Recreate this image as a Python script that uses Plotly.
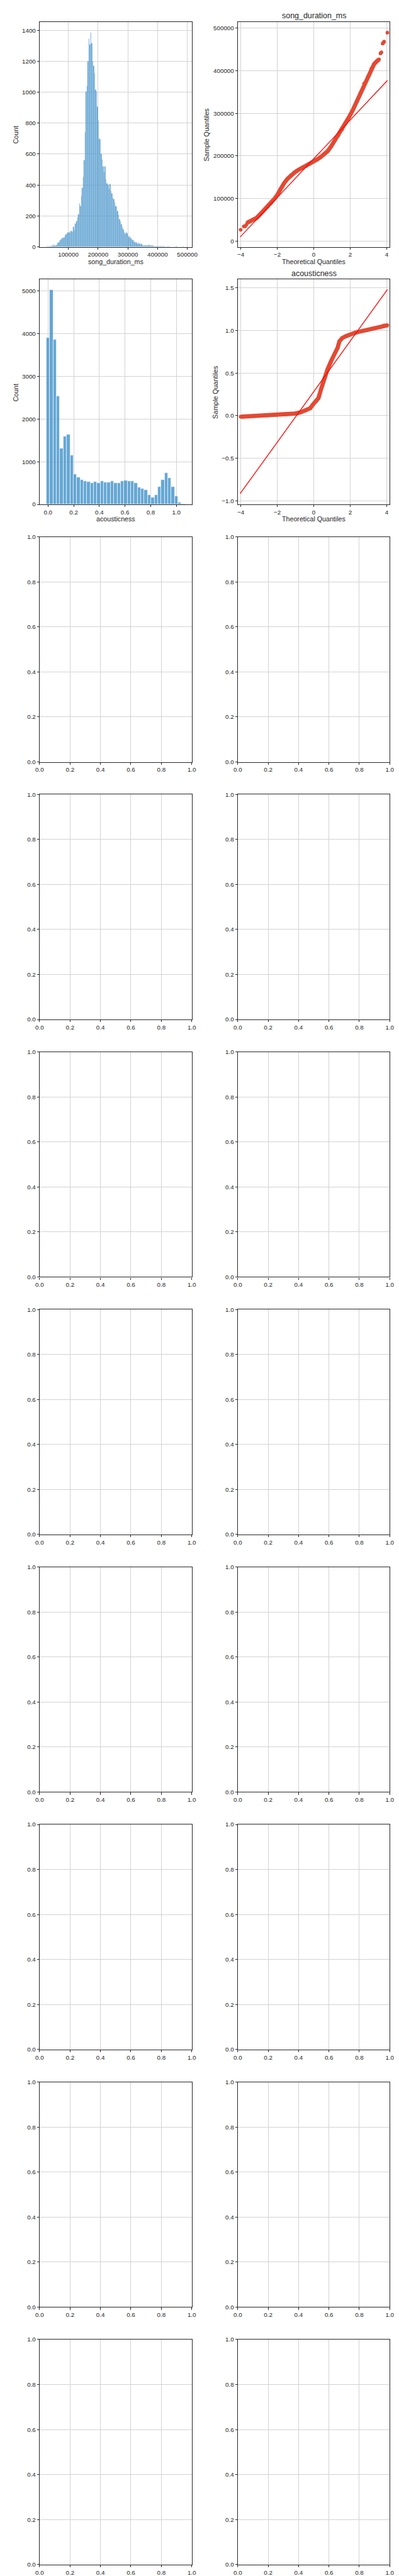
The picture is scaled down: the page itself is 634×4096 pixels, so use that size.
import plotly.graph_objects as go

# ---------------- data ----------------
# song_duration_ms histogram
dur_bin_start = 26750
dur_bin_width = 3207
dur_counts = [
    2, 0, 3, 3, 4, 6, 8, 14, 8, 9,
    12, 24, 28, 32, 44, 47, 58, 58, 60, 72,
    82, 85, 93, 93, 92, 107, 102, 98, 128, 110,
    148, 165, 190, 210, 280, 265, 330, 380, 450, 560,
    740, 1005, 1040, 1200, 1345, 1310, 1385, 1315, 1200, 1170,
    1120, 1015, 1005, 905, 815, 700, 695, 600, 565, 520,
    485, 520, 435, 410, 400, 375, 405, 360, 345, 315,
    310, 290, 262, 258, 232, 205, 178, 165, 145, 128,
    115, 98, 85, 96, 88, 76, 66, 68, 56, 50,
    45, 40, 32, 26, 30, 20, 26, 18, 14, 18,
    10, 8, 12, 8, 12, 9, 10, 12, 7, 9,
    10, 8, 5, 4, 3, 4, 3, 3, 4, 3,
    3, 3, 2, 3, 1, 0, 2, 1, 2, 0,
    0, 1, 0, 0, 0, 3, 2, 0, 0, 0,
    0, 0, 0, 2, 1,
]

# acousticness histogram
ac_bin_start = -0.0115
ac_bin_width = 0.02628
ac_counts = [
    3906, 5021, 3867, 2541, 1308, 1597, 1636, 1142, 704, 630,
    577, 538, 525, 499, 525, 499, 551, 512, 512, 538,
    499, 499, 551, 564, 551, 551, 499, 394, 363, 337,
    219, 166, 219, 407, 573, 730, 612, 416, 192, 39, 13,
]

# song_duration_ms Q-Q plot (theoretical quantile, sample quantile)
dur_qq_band_x = [-3.64, -3.49, -3.34, -3.14, -2.94, -2.74, -2.54, -2.34, -2.14, -1.99,
                 -1.84, -1.64, -1.44, -1.24, -1.04, -0.84, -0.64, -0.44, -0.24, -0.04,
                 0.16, 0.36, 0.56, 0.76, 0.96, 1.16, 1.36, 1.56, 1.76, 1.96,
                 2.16, 2.36, 2.56, 2.76, 2.96, 3.16, 3.31, 3.46, 3.58]
dur_qq_band_y = [43000, 46000, 49600, 54000, 62700, 71500, 80300, 89000, 100000, 108800,
                 122000, 135000, 146000, 154800, 161400, 167100, 171500, 175900, 180300, 185500,
                 190800, 196500, 203000, 211000, 222800, 236000, 249000, 262300, 277600, 293000,
                 309200, 328000, 347800, 369700, 385000, 404800, 415800, 422400, 426800]
dur_qq_dots_x = [-4.01, -3.84, -3.77, -3.70, 3.66, 3.71, 3.78, 3.83, 3.86, 4.04]
dur_qq_dots_y = [26300, 34200, 34200, 38000, 440800, 443400, 464000, 466500, 468400, 489500]
dur_line_x = [-4.04, 4.04]
dur_line_y = [9200, 377200]

# acousticness Q-Q plot
ac_qq_band_x = [-4.01, -3.79, -3.54, -3.04, -2.54, -2.04, -1.54, -1.04, -0.74, -0.44,
                -0.19, -0.04, 0.16, 0.26, 0.41, 0.56, 0.76, 0.96, 1.16, 1.31,
                1.41, 1.56, 1.76, 1.96, 2.26, 2.56, 2.96, 3.36, 3.66, 3.86, 4.04]
ac_qq_band_y = [-0.013, -0.011, -0.007, -0.002, 0.002, 0.007, 0.013, 0.024, 0.037, 0.059,
                0.087, 0.131, 0.175, 0.207, 0.317, 0.426, 0.546, 0.644, 0.731, 0.797,
                0.873, 0.910, 0.932, 0.950, 0.972, 0.989, 1.007, 1.026, 1.041, 1.059, 1.061]
ac_line_x = [-4.04, 4.04]
ac_line_y = [-0.917, 1.480]

# tick values / labels
dur_ticks = [100000, 200000, 300000, 400000, 500000]
dur_tick_labels = ["100000", "200000", "300000", "400000", "500000"]
count1_ticks = [0, 200, 400, 600, 800, 1000, 1200, 1400]
count1_labels = ["0", "200", "400", "600", "800", "1000", "1200", "1400"]
qq_x_ticks = [-4, -2, 0, 2, 4]
qq_x_labels = ["\u22124", "\u22122", "0", "2", "4"]
dur_qq_y_ticks = [0, 100000, 200000, 300000, 400000, 500000]
dur_qq_y_labels = ["0", "100000", "200000", "300000", "400000", "500000"]
ac_ticks = [0.0, 0.2, 0.4, 0.6, 0.8, 1.0]
ac_tick_labels = ["0.0", "0.2", "0.4", "0.6", "0.8", "1.0"]
count2_ticks = [0, 1000, 2000, 3000, 4000, 5000]
count2_labels = ["0", "1000", "2000", "3000", "4000", "5000"]
ac_qq_y_ticks = [-1.0, -0.5, 0.0, 0.5, 1.0, 1.5]
ac_qq_y_labels = ["\u22121.0", "\u22120.5", "0.0", "0.5", "1.0", "1.5"]
unit_ticks = [0.0, 0.2, 0.4, 0.6, 0.8, 1.0]
unit_labels = ["0.0", "0.2", "0.4", "0.6", "0.8", "1.0"]

# ---------------- geometry / style ----------------
S = 0.89
W, H = 634, 4096
RW, RH = 712.0, 4600.0
ROW_TOP0, ROW_STEP, PANEL_H = 23.3, 461.1, 403.0
COLS = [(55.3, 334.3), (418.7, 697.3)]
NROWS = 10

FONT = "Liberation Sans, Arial, sans-serif"
TXT = "#262626"
GRID = "#d3d3d3"
TICK_FS = 11 * S
LABEL_FS = 12 * S
TITLE_FS = 14 * S


def px(x):
    return x / RW


def py(y):
    return 1 - y / RH


def axis(domain, rng, tickvals, ticktext, anchor):
    return dict(
        domain=domain, range=rng, anchor=anchor,
        tickmode="array", tickvals=tickvals, ticktext=ticktext,
        showgrid=True, gridcolor=GRID, gridwidth=0.9,
        showline=True, linecolor=TXT, linewidth=1.1, mirror=True,
        ticks="outside", ticklen=3.5 * S, tickwidth=0.9, tickcolor=TXT,
        tickfont=dict(family=FONT, size=TICK_FS, color=TXT),
        zeroline=False, fixedrange=True,
    )


fig = go.Figure()
layout = {}
annotations = []


def ax_ids(r, c):
    n = 2 * r + c + 1
    s = "" if n == 1 else str(n)
    return "x" + s, "y" + s, "xaxis" + s, "yaxis" + s


def panel_box(r, c):
    top = ROW_TOP0 + r * ROW_STEP
    bot = top + PANEL_H
    x0, x1 = COLS[c]
    return x0, x1, top, bot


def add_label(text, x, y, size=LABEL_FS, angle=0):
    annotations.append(dict(
        text=text, x=px(x), y=py(y), xref="paper", yref="paper",
        showarrow=False, textangle=angle, xanchor="center", yanchor="middle",
        font=dict(family=FONT, size=size, color=TXT)))


for r in range(NROWS):
    for c in range(2):
        xid, yid, xk, yk = ax_ids(r, c)
        x0, x1, top, bot = panel_box(r, c)
        xd = [px(x0), px(x1)]
        yd = [py(bot), py(top)]
        if r == 0 and c == 0:
            xr, xt, xl = [3500, 515000], dur_ticks, dur_tick_labels
            yr, yt, yl = [0, 1455], count1_ticks, count1_labels
        elif r == 0 and c == 1:
            xr, xt, xl = [-4.168, 4.168], qq_x_ticks, qq_x_labels
            yr, yt, yl = [-14050, 515050], dur_qq_y_ticks, dur_qq_y_labels
        elif r == 1 and c == 0:
            xr, xt, xl = [-0.0654, 1.12], ac_ticks, ac_tick_labels
            yr, yt, yl = [0, 5276], count2_ticks, count2_labels
        elif r == 1 and c == 1:
            xr, xt, xl = [-4.168, 4.168], qq_x_ticks, qq_x_labels
            yr, yt, yl = [-1.043, 1.600], ac_qq_y_ticks, ac_qq_y_labels
        else:
            xr, xt, xl = [0, 1], unit_ticks, unit_labels
            yr, yt, yl = [0, 1], unit_ticks, unit_labels
            # empty panel: an empty trace so plotly draws the axes
            fig.add_trace(go.Scatter(x=[], y=[], xaxis=xid, yaxis=yid, mode="markers",
                                     showlegend=False, hoverinfo="skip"))
        layout[xk] = axis(xd, xr, xt, xl, yid)
        layout[yk] = axis(yd, yr, yt, yl, xid)

BAR_FILL = "rgba(45,133,194,0.72)"

# song_duration_ms histogram
dur_x = [dur_bin_start + (i + 0.5) * dur_bin_width for i in range(len(dur_counts))]
fig.add_trace(go.Bar(x=dur_x, y=dur_counts, width=dur_bin_width, xaxis="x", yaxis="y",
                     marker=dict(color=BAR_FILL, line=dict(color="rgba(255,255,255,0.5)", width=0.25)),
                     showlegend=False, hoverinfo="skip"))

# acousticness histogram
ac_x = [ac_bin_start + (i + 0.5) * ac_bin_width for i in range(len(ac_counts))]
fig.add_trace(go.Bar(x=ac_x, y=ac_counts, width=ac_bin_width, xaxis="x3", yaxis="y3",
                     marker=dict(color=BAR_FILL, line=dict(color="rgba(235,245,252,0.9)", width=0.9)),
                     showlegend=False, hoverinfo="skip"))

QQ_COLOR = "#E24A33"
MS = 6.5 * S

# song_duration QQ
fig.add_trace(go.Scatter(x=dur_qq_band_x, y=dur_qq_band_y, mode="lines+markers", xaxis="x2", yaxis="y2",
                         line=dict(color=QQ_COLOR, width=MS * 1.15), marker=dict(color=QQ_COLOR, size=MS),
                         showlegend=False, hoverinfo="skip"))
fig.add_trace(go.Scatter(x=dur_qq_dots_x, y=dur_qq_dots_y, mode="markers", xaxis="x2", yaxis="y2",
                         marker=dict(color=QQ_COLOR, size=MS), showlegend=False, hoverinfo="skip"))
fig.add_trace(go.Scatter(x=dur_line_x, y=dur_line_y, mode="lines", xaxis="x2", yaxis="y2",
                         line=dict(color="#ff0000", width=1.3), showlegend=False, hoverinfo="skip"))

# acousticness QQ
fig.add_trace(go.Scatter(x=ac_qq_band_x, y=ac_qq_band_y, mode="lines+markers", xaxis="x4", yaxis="y4",
                         line=dict(color=QQ_COLOR, width=MS * 1.15), marker=dict(color=QQ_COLOR, size=MS),
                         showlegend=False, hoverinfo="skip"))
fig.add_trace(go.Scatter(x=ac_line_x, y=ac_line_y, mode="lines", xaxis="x4", yaxis="y4",
                         line=dict(color="#ff0000", width=1.3), showlegend=False, hoverinfo="skip"))

# ---------------- labels ----------------
# row 0
add_label("song_duration_ms", 194.8, 452.7)
add_label("Count", 11.5, 224.8, angle=-90)
add_label("Theoretical Quantiles", 558.0, 452.5)
add_label("Sample Quantiles", 361.0, 226.0, angle=-90)
add_label("song_duration_ms", 558.0, 12.0, size=TITLE_FS)
# row 1
add_label("acousticness", 194.8, 913.5)
add_label("Count", 11.5, 686.5, angle=-90)
add_label("Theoretical Quantiles", 558.0, 913.5)
add_label("Sample Quantiles", 376.5, 686.5, angle=-90)
add_label("acousticness", 558.0, 474.5, size=TITLE_FS)

fig.update_layout(
    width=W, height=H, autosize=False,
    margin=dict(l=0, r=0, t=0, b=0, pad=0),
    paper_bgcolor="white", plot_bgcolor="white",
    font=dict(family=FONT, color=TXT),
    bargap=0, barmode="overlay",
    annotations=annotations,
    **layout,
)

fig.write_html("out.html")
